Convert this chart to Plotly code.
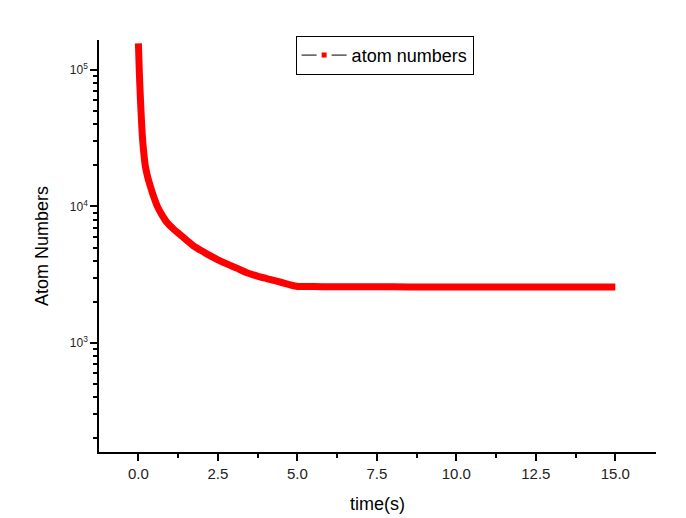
import plotly.graph_objects as go

time_s = [0.0, 0.03, 0.06, 0.09, 0.125, 0.17, 0.22, 0.29, 0.38, 0.48, 0.6, 0.74, 0.9,
          1.11, 1.32, 1.53, 1.73, 1.94, 2.15, 2.47, 2.78, 3.09, 3.41, 3.72, 4.03, 4.35,
          4.66, 4.97, 5.5, 6.0, 7.0, 8.0, 9.0, 10.0, 11.0, 12.0, 13.0, 14.0, 15.0]
atom_numbers = [157000, 94600, 63700, 45500, 32400, 24500, 19600, 16500, 13960, 11800,
                9970, 8670, 7620, 6810, 6190, 5620, 5140, 4800, 4490, 4100, 3790, 3530,
                3270, 3100, 2960, 2830, 2710, 2600, 2585, 2580, 2575, 2575, 2570, 2570,
                2570, 2570, 2570, 2570, 2570]
series_name = "atom numbers"
y_tick_vals = [1e3, 1e4, 1e5]
y_tick_text = ["10<sup>3</sup>", "10<sup>4</sup>", "10<sup>5</sup>"]
y_minor_vals = [200, 300, 400, 500, 600, 700, 800, 900,
                2000, 3000, 4000, 5000, 6000, 7000, 8000, 9000,
                20000, 30000, 40000, 50000, 60000, 70000, 80000, 90000]
x_tick_vals = [0, 2.5, 5, 7.5, 10, 12.5, 15]
x_tick_text = ["0.0", "2.5", "5.0", "7.5", "10.0", "12.5", "15.0"]
x_minor_vals = [1.25, 3.75, 6.25, 8.75, 11.25, 13.75]

FONT = "Liberation Sans, Arial, sans-serif"

fig = go.Figure()
fig.add_trace(go.Scatter(
    x=time_s, y=atom_numbers, mode="lines",
    line=dict(color="#ff0000", width=7, shape="spline", smoothing=0.8),
    showlegend=False,
))
# legend-only entry (Origin style: black line, gap, red square symbol, gap, black line)
fig.add_trace(go.Scatter(
    x=[None], y=[None], mode="lines+markers", name=series_name,
    line=dict(color="black", width=1),
    marker=dict(symbol="square", color="#ff0000", size=10,
                line=dict(color="white", width=5)),
))

fig.update_layout(
    width=678, height=510,
    margin=dict(l=91, r=30, t=32, b=66, autoexpand=False),
    paper_bgcolor="white", plot_bgcolor="white",
    font=dict(family=FONT, color="black"),
    showlegend=True,
    legend=dict(
        x=0.353, xanchor="left", y=1.01, yanchor="top",
        bordercolor="black", borderwidth=1, bgcolor="white",
        font=dict(size=18, family=FONT),
        itemwidth=45,
        tracegroupgap=0,
    ),
    xaxis=dict(
        range=[-1.24, 16.28],
        automargin=False,
        tickvals=x_tick_vals, ticktext=x_tick_text,
        ticks="outside", ticklen=7, tickwidth=1.5, tickcolor="black",
        minor=dict(tickvals=x_minor_vals,
                   ticks="outside", ticklen=4, tickwidth=1.5, tickcolor="black"),
        showline=True, linecolor="black", linewidth=1.5,
        showgrid=False, zeroline=False,
        tickfont=dict(size=15, color="#222"),
        title=dict(text="time(s)", font=dict(size=18), standoff=17),
    ),
    yaxis=dict(
        type="log",
        range=[2.2, 5.22],
        automargin=False,
        tickvals=y_tick_vals, ticktext=y_tick_text,
        ticks="outside", ticklen=7, tickwidth=1.5, tickcolor="black",
        minor=dict(tickvals=y_minor_vals, ticks="outside", ticklen=4,
                   tickwidth=1.5, tickcolor="black", showgrid=False),
        showline=True, linecolor="black", linewidth=1.5,
        showgrid=False, zeroline=False,
        tickfont=dict(size=12, color="#222"),
        title=dict(text="Atom Numbers", font=dict(size=18), standoff=17),
    ),
)

fig.write_html("out.html")
